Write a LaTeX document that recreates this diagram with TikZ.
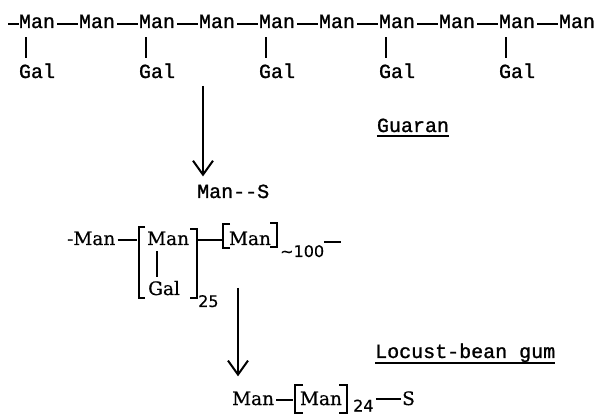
\documentclass[tikz,border=0pt]{standalone}
\usepackage{fontspec}
\usetikzlibrary{arrows.meta,calc}
\newfontfamily\twfont[FakeBold=1.2]{Liberation Mono}
\newfontfamily\srfont[FakeBold=0.6]{DejaVu Serif}
\newfontfamily\ssfont[FakeBold=0.4]{DejaVu Sans}
\tikzset{
  tw/.style={font=\twfont\fontsize{20}{24}\selectfont, inner sep=0pt, anchor=base},
  sr/.style={font=\srfont\fontsize{18.5}{22}\selectfont, inner sep=0pt, anchor=base},
  sub/.style={font=\ssfont\fontsize{16}{19}\selectfont, inner sep=0pt, anchor=base west},
  bond/.style={line width=1.8pt},
  brk/.style={line width=2pt},
  uline/.style={line width=1.5pt},
  arr/.style={line width=2pt, -{Straight Barb[length=14pt, width=20pt, line width=2pt]}}
}
\begin{document}
\begin{tikzpicture}[x=1pt,y=-1pt]
\useasboundingbox (0,0) rectangle (595,414);
% Guaran chain
\foreach \i in {0,...,9} \node[tw] (m\i) at (37+60*\i,28) {Man};
\foreach \i [evaluate=\i as \j using int(\i+1)] in {0,...,8}
  \draw[bond, shorten <=2pt, shorten >=1pt] ([yshift=4pt]m\i.base east) -- ([yshift=4pt]m\j.base west);
\coordinate (d0) at (8,24);
\draw[bond] (d0) -- ([yshift=4pt]m0.base west);
\foreach \i in {0,2,4,6,8} {
  \node[tw] (g\i) at (37+60*\i,78) {Gal};
  \draw[bond, shorten <=9pt, shorten >=5pt] ([xshift=-11pt]m\i.south) -- ([xshift=-11pt]g\i.north);
}
\node[tw] (gu) at (413,132) {Guaran};
\draw[uline] ([yshift=-4pt]gu.base west) -- ([yshift=-4pt]gu.base east);
\node[tw, anchor=base west] (ms) at (197,198) {Man-{}-S};
\coordinate (a1) at (203,86);
\draw[arr, shorten >=8pt] (a1) -- (a1 |- ms.north);
% Locust-bean gum chain
\node[sr, anchor=base west] (r3) at (67,245) {-Man};
\coordinate (b1l) at (139,240);
\coordinate (b1r) at (197,240);
\draw[brk] (145,227) -- (139,227) -- (139,298) -- (145,298);
\draw[brk] (190,229) -- (197,229) -- (197,298) -- (190,298);
\node[sr, anchor=base west] (b1m) at (147,245) {Man};
\node[sr, anchor=base west] (b1g) at (148,295) {Gal};
\draw[bond, shorten <=6pt, shorten >=4pt] (b1m.south west -| 157,0) -- (b1g.north west -| 157,0);
\draw[bond, shorten <=2pt, shorten >=2pt] ([yshift=5pt]r3.base east) -- (b1l);
\node[sub] (s25) at (198,307) {25};
\coordinate (b2l) at (223,240);
\draw[bond, shorten <=1pt, shorten >=1pt] (b1r) -- (b2l);
\draw[brk] (230,224) -- (223,224) -- (223,248) -- (230,248);
\draw[brk] (270,223) -- (277,223) -- (277,247) -- (270,247);
\node[sr] (b2m) at (250,245) {Man};
\node[sub] (s100) at (280,257) {∼100};
\coordinate (t1) at (341,242);
\draw[bond] (s100.east |- t1) -- (t1);
\coordinate (a2) at (238,288);
\node[sr, anchor=base west] (bm) at (232,405) {Man};
\draw[arr, shorten >=15pt] (a2) -- (a2 |- bm.north);
\node[tw, anchor=base west] (lb) at (375,358) {Locust-bean gum};
\draw[uline] ([yshift=-5pt]lb.base west) -- ([yshift=-5pt]lb.base east);
\coordinate (b3l) at (295,400);
\draw[bond, shorten <=2pt, shorten >=2pt] ([yshift=5pt]bm.base east) -- (b3l);
\draw[brk] (303,385) -- (295,385) -- (295,413) -- (303,413);
\draw[brk] (339,385) -- (347,385) -- (347,413) -- (339,413);
\node[sr] (bm2) at (321,405) {Man};
\node[sub] (s24) at (353,411.5) {24};
\node[sr, anchor=base west] (bs) at (402,405) {S};
\draw[bond, shorten <=2pt, shorten >=1pt] ($(s24.base east |- bs.base)+(0,-6)$) -- ([yshift=6pt]bs.base west);
\end{tikzpicture}
\end{document}
